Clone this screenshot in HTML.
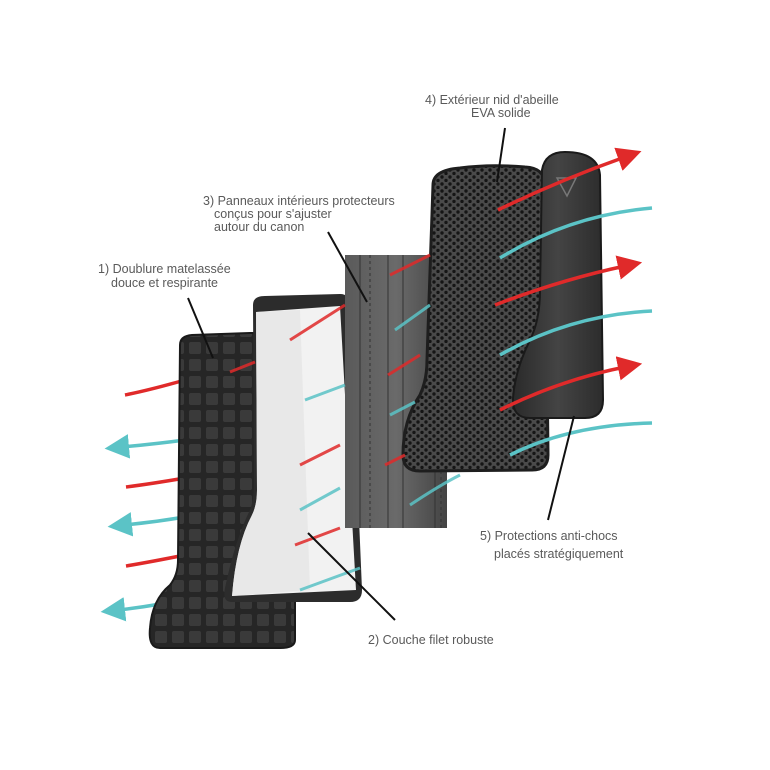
<!DOCTYPE html>
<html><head><meta charset="utf-8"><style>
html,body{margin:0;padding:0;background:#fff;width:770px;height:770px;overflow:hidden}
svg{display:block}
text{font-family:"Liberation Sans",sans-serif;font-size:12.5px;fill:#5a5a5a}
</style></head><body>
<svg width="770" height="770" viewBox="0 0 770 770" xmlns="http://www.w3.org/2000/svg">
<defs>
<pattern id="quilt" width="17" height="17" patternUnits="userSpaceOnUse">
<rect width="17" height="17" fill="#262626"/>
<rect x="2" y="2" width="12" height="12" rx="2" fill="#3a3a3a"/>
</pattern>
<pattern id="hex" width="8" height="7" patternUnits="userSpaceOnUse">
<rect width="8" height="7" fill="#4a4a4a"/>
<circle cx="2" cy="2" r="1.7" fill="#151515"/>
<circle cx="6" cy="5.5" r="1.7" fill="#151515"/>
</pattern>
<linearGradient id="grey" x1="0" x2="1">
<stop offset="0" stop-color="#5a5a5a"/><stop offset="0.5" stop-color="#6a6a6a"/><stop offset="1" stop-color="#444"/>
</linearGradient>
<linearGradient id="strip" x1="0" x2="1">
<stop offset="0" stop-color="#2a2a2a"/><stop offset="0.5" stop-color="#444"/><stop offset="1" stop-color="#2c2c2c"/>
</linearGradient>
<marker id="rh" markerWidth="7" markerHeight="7" refX="2" refY="3.5" orient="auto" markerUnits="strokeWidth">
<path d="M0,0 L7,3.5 L0,7 z" fill="#e02a2a"/></marker>
<marker id="th" markerWidth="7" markerHeight="7" refX="2" refY="3.5" orient="auto" markerUnits="strokeWidth">
<path d="M0,0 L7,3.5 L0,7 z" fill="#5bc3c6"/></marker>
</defs>

<g stroke-width="3.5" fill="none">
<path d="M125,395 Q150,390 185,380" stroke="#e02a2a"/>
<path d="M126,487 Q150,484 185,478" stroke="#e02a2a"/>
<path d="M126,566 Q150,562 185,555" stroke="#e02a2a"/>
<path d="M185,440 Q155,444 122,447" stroke="#5bc3c6" marker-end="url(#th)"/>
<path d="M185,517 Q155,522 125,525" stroke="#5bc3c6" marker-end="url(#th)"/>
<path d="M190,598 Q155,606 118,610" stroke="#5bc3c6" marker-end="url(#th)"/>
</g>

<path d="M180,345 Q180,336 192,335 L250,333 Q295,333 295,345 L295,640 Q295,648 280,648 L160,648 Q148,648 150,628 Q152,600 170,585 Q178,575 178,560 Z" fill="url(#quilt)" stroke="#1a1a1a" stroke-width="2"/>

<path d="M253,305 Q253,296 265,296 L340,294 Q350,294 350,305 L362,590 Q362,602 350,602 L232,602 Q222,602 225,588 Q235,540 250,510 Q254,500 254,480 Z" fill="#2c2c2c"/>
<path d="M256,312 L340,306 L356,590 L232,596 Q236,545 252,515 Q257,505 257,490 Z" fill="#f2f2f2"/>
<path d="M256,312 L300,310 L310,590 L232,596 Q236,545 252,515 Q257,505 257,490 Z" fill="#e4e4e4" opacity="0.7"/>

<rect x="345" y="255" width="102" height="273" fill="url(#grey)"/>
<g stroke="#333" stroke-width="1">
<line x1="360" y1="255" x2="360" y2="528"/>
<line x1="370" y1="255" x2="370" y2="528" stroke-dasharray="3,3"/>
<line x1="388" y1="255" x2="388" y2="528"/>
<line x1="403" y1="255" x2="403" y2="528"/>
<line x1="435" y1="255" x2="435" y2="528"/>
<line x1="441" y1="255" x2="441" y2="528" stroke-dasharray="3,3"/>
</g>

<path d="M433,185 Q433,170 460,168 Q490,164 525,167 Q545,168 545,185 L548,455 Q548,470 532,470 L420,471 Q403,471 403,455 Q403,420 420,395 Q427,380 427,360 Z" fill="url(#hex)" stroke="#1e1e1e" stroke-width="3"/>

<path d="M542,170 Q545,152 565,152 Q598,152 600,175 L603,400 Q603,418 585,418 L530,418 Q512,418 513,398 Q515,370 530,340 Q540,320 540,290 Z" fill="url(#strip)" stroke="#1a1a1a" stroke-width="2"/>
<path d="M557,178 L576,178 L567,196 Z" fill="none" stroke="#777" stroke-width="1.5"/>

<g stroke-width="3" fill="none" opacity="0.85">
<path d="M230,372 L255,362" stroke="#e02a2a"/>
<path d="M290,340 L345,305" stroke="#e02a2a"/>
<path d="M305,400 L345,385" stroke="#5bc3c6"/>
<path d="M300,465 L340,445" stroke="#e02a2a"/>
<path d="M300,510 L340,488" stroke="#5bc3c6"/>
<path d="M295,545 L340,528" stroke="#e02a2a"/>
<path d="M300,590 L360,568" stroke="#5bc3c6"/>
<path d="M390,275 L430,255" stroke="#e02a2a"/>
<path d="M395,330 L430,305" stroke="#5bc3c6"/>
<path d="M388,375 L420,355" stroke="#e02a2a"/>
<path d="M390,415 L415,402" stroke="#5bc3c6"/>
<path d="M385,465 L405,455" stroke="#e02a2a"/>
<path d="M410,505 Q440,485 460,475" stroke="#5bc3c6"/>
</g>
<g stroke-width="3.5" fill="none">
<path d="M498,210 Q560,180 625,157" stroke="#e02a2a" marker-end="url(#rh)"/>
<path d="M495,305 Q560,280 625,266" stroke="#e02a2a" marker-end="url(#rh)"/>
<path d="M500,410 Q560,380 625,367" stroke="#e02a2a" marker-end="url(#rh)"/>
<path d="M500,258 Q570,215 652,208" stroke="#5bc3c6"/>
<path d="M500,355 Q570,315 652,311" stroke="#5bc3c6"/>
<path d="M510,455 Q570,425 652,423" stroke="#5bc3c6"/>
</g>

<g stroke="#111" stroke-width="2">
<line x1="188" y1="298" x2="213" y2="358"/>
<line x1="328" y1="232" x2="367" y2="302"/>
<line x1="505" y1="128" x2="497" y2="182"/>
<line x1="574" y1="416" x2="548" y2="520"/>
<line x1="308" y1="533" x2="395" y2="620"/>
</g>

<text x="98" y="273">1) Doublure matelassée</text>
<text x="111" y="287">douce et respirante</text>
<text x="203" y="205">3) Panneaux intérieurs protecteurs</text>
<text x="214" y="218">conçus pour s'ajuster</text>
<text x="214" y="231">autour du canon</text>
<text x="425" y="104">4) Extérieur nid d'abeille</text>
<text x="471" y="117">EVA solide</text>
<text x="480" y="540">5) Protections anti-chocs</text>
<text x="494" y="558">placés stratégiquement</text>
<text x="368" y="644">2) Couche filet robuste</text>
</svg>
</body></html>
